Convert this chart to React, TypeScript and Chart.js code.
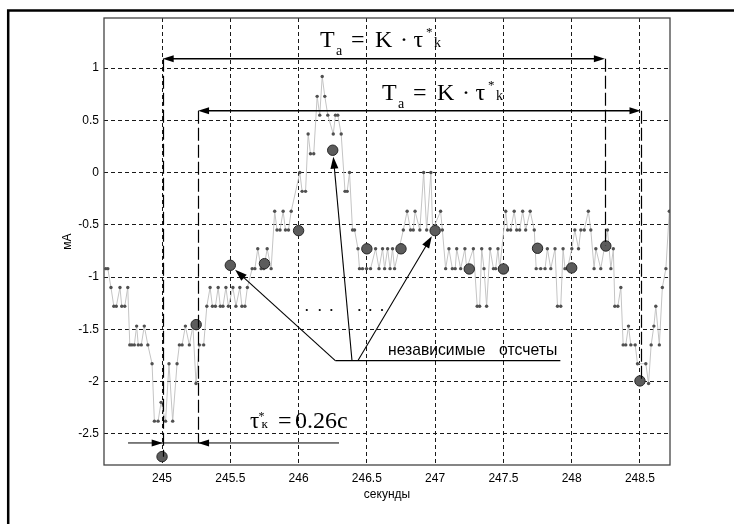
import { useEffect, useRef } from 'react';
import { Chart, registerables } from 'chart.js';

Chart.register(...registerables);

// ---------- axes ----------
const xMin = 244.575;
const xMax = 248.72;
const yMin = -2.8;
const yMax = 1.48;
const xTickValues = [245, 245.5, 246, 246.5, 247, 247.5, 248, 248.5];
const xTickLabels = ['245', '245.5', '246', '246.5', '247', '247.5', '248', '248.5'];
const yTickValues = [-2.5, -2, -1.5, -1, -0.5, 0, 0.5, 1];
const yTickLabels = ['-2.5', '-2', '-1.5', '-1', '-0.5', '0', '0.5', '1'];
const xTitle = 'секунды';
const yTitle = 'мА';

// ---------- quantised signal samples (seconds, mA) ----------
const sampleTimes = [
  244.588, 244.603, 244.626, 244.647, 244.665, 244.692, 244.705, 244.727, 244.749, 244.764,
  244.779, 244.797, 244.814, 244.826, 244.848, 244.870, 244.896, 244.927, 244.944, 244.971,
  244.993, 245.026, 245.051, 245.078, 245.110, 245.127, 245.147, 245.171, 245.200, 245.226,
  245.249, 245.273, 245.305, 245.328, 245.352, 245.369, 245.391, 245.411, 245.427, 245.446,
  245.468, 245.486, 245.519, 245.541, 245.570, 245.585, 245.607, 245.625, 245.660, 245.680,
  245.701, 245.726, 245.745, 245.770, 245.799, 245.825, 245.842, 245.864, 245.887, 245.904,
  245.926, 245.946, 246.009, 246.026, 246.051, 246.070, 246.087, 246.111, 246.136, 246.155,
  246.173, 246.192, 246.214, 246.254, 246.270, 246.287, 246.312, 246.340, 246.356, 246.373,
  246.395, 246.410, 246.435, 246.446, 246.468, 246.498, 246.527, 246.564, 246.589, 246.615,
  246.630, 246.652, 246.670, 246.688, 246.703, 246.767, 246.795, 246.820, 246.840, 246.853,
  246.888, 246.916, 246.938, 246.969, 246.982, 247.040, 247.053, 247.077, 247.101, 247.126,
  247.147, 247.158, 247.187, 247.218, 247.231, 247.280, 247.308, 247.326, 247.341, 247.358,
  247.377, 247.402, 247.427, 247.443, 247.460, 247.473, 247.517, 247.531, 247.553, 247.579,
  247.597, 247.619, 247.641, 247.663, 247.696, 247.726, 247.740, 247.773, 247.805, 247.822,
  247.847, 247.878, 247.896, 247.920, 247.937, 247.951, 247.969, 248.001, 248.023, 248.050,
  248.067, 248.092, 248.122, 248.140, 248.164, 248.177, 248.213, 248.262, 248.287, 248.305,
  248.316, 248.338, 248.360, 248.377, 248.396, 248.416, 248.433, 248.465, 248.482, 248.543,
  248.563, 248.582, 248.602, 248.616, 248.642, 248.664, 248.690, 248.715,
];
const sampleLevels = [
  -0.92, -0.92, -1.10, -1.28, -1.28, -1.10, -1.28, -1.28, -1.10, -1.65,
  -1.65, -1.65, -1.47, -1.65, -1.65, -1.47, -1.65, -1.83, -2.38, -2.38,
  -2.20, -2.38, -1.83, -2.38, -1.83, -1.65, -1.65, -1.47, -1.65, -1.47,
  -2.02, -1.65, -1.65, -1.28, -1.10, -1.28, -1.28, -1.10, -1.28, -1.28,
  -1.10, -1.28, -1.10, -1.28, -1.10, -1.28, -1.28, -1.10, -0.92, -0.92,
  -0.73, -0.92, -0.92, -0.73, -0.92, -0.37, -0.55, -0.55, -0.37, -0.55,
  -0.55, -0.37, 0.00, -0.18, -0.18, 0.37, 0.18, 0.18, 0.73, 0.55,
  0.92, 0.73, 0.55, 0.37, 0.55, 0.55, 0.37, -0.18, -0.18, 0.00,
  -0.55, -0.55, -0.73, -0.92, -0.92, -0.92, -0.92, -0.73, -0.92, -0.73,
  -0.92, -0.73, -0.92, -0.73, -0.92, -0.55, -0.37, -0.55, -0.55, -0.37,
  -0.55, 0.00, -0.55, 0.00, -0.55, -0.37, -0.55, -0.92, -0.73, -0.92,
  -0.92, -0.73, -0.92, -0.73, -0.92, -0.73, -1.28, -1.28, -0.73, -0.92,
  -1.28, -0.73, -0.92, -0.92, -0.73, -0.92, -0.37, -0.55, -0.55, -0.37,
  -0.55, -0.55, -0.37, -0.55, -0.37, -0.55, -0.92, -0.92, -0.92, -0.73,
  -0.92, -0.73, -1.28, -1.28, -0.73, -0.92, -0.92, -0.73, -0.55, -0.73,
  -0.55, -0.55, -0.37, -0.55, -0.92, -0.73, -0.92, -0.55, -0.92, -0.73,
  -1.28, -1.28, -1.10, -1.65, -1.65, -1.47, -1.65, -1.65, -1.83, -1.83,
  -2.02, -1.65, -1.47, -1.28, -1.65, -1.10, -0.92, -0.37,
];

// ---------- independent samples (big circles) ----------
const independentTimes = [245, 245.25, 245.5, 245.75, 246, 246.25, 246.5, 246.75, 247, 247.25, 247.5, 247.75, 248, 248.25, 248.5];
const independentValues = [-2.72, -1.456, -0.888, -0.872, -0.556, 0.214, -0.73, -0.73, -0.556, -0.923, -0.923, -0.725, -0.913, -0.703, -1.995];

// ---------- annotations (data coordinates) ----------
const spanArrowY = [1.09, 0.593];
const spanArrowFrom = [245.005, 245.264];
const spanArrowTo = [248.243, 248.504];
const guideX = [245.005, 248.243, 245.264, 248.504];
const guideTop = [1.09, 1.09, 0.593, 0.593];
const guideBottom = [-2.72, -0.703, -2.589, -1.995];
const formulaT = [246.157, 246.611];
const formulaY = [1.205, 0.695];
const tauArrowY = -2.589;
const tauArrowFrom = 244.751;
const tauArrowTo = 246.296;
const tauHeadRight = 245.005;
const tauHeadLeft = 245.264;
const tauLabelT = 245.644;
const tauLabelY = -2.443;
const ellipsisT = [246.060, 246.155, 246.240, 246.445, 246.525, 246.611];
const ellipsisY = -1.316;
const noteWords = ['независимые', 'отсчеты'];
const noteWordFrom = [246.655, 247.468];
const noteWordTo = [247.368, 247.895];
const noteBaseline = -1.749;
const noteLineY = -1.80;
const noteLineFrom = 246.269;
const noteLineTo = 247.917;
const pointerFrom = [246.269, 246.391, 246.435];
const pointerTargetIndex = [2, 5, 8];

const SERIF = '"Liberation Serif", "Times New Roman", serif';
const SANS = '"Liberation Sans", Arial, sans-serif';

function arrowHead(ctx: CanvasRenderingContext2D, tx: number, ty: number, fx: number, fy: number, len: number, half: number) {
  const dx = tx - fx;
  const dy = ty - fy;
  const d = Math.hypot(dx, dy) || 1;
  const ux = dx / d;
  const uy = dy / d;
  const bx = tx - ux * len;
  const by = ty - uy * len;
  ctx.beginPath();
  ctx.moveTo(tx, ty);
  ctx.lineTo(bx - uy * half, by + ux * half);
  ctx.lineTo(bx + uy * half, by - ux * half);
  ctx.closePath();
  ctx.fill();
}

function drawFormula(ctx: CanvasRenderingContext2D, x0: number, y0: number) {
  const parts: [string, number, number, number][] = [
    ['T', 0, 0, 24],
    ['a', 16, 8, 14],
    ['=', 31, 0, 24],
    ['K', 55, 0, 24],
    ['·', 80, 0, 24],
    ['τ', 93.5, 0, 24],
    ['*', 106, -11, 13],
    ['k', 114, 0, 14],
  ];
  ctx.textAlign = 'left';
  ctx.textBaseline = 'alphabetic';
  for (const [s, dx, dy, size] of parts) {
    ctx.font = `${size}px ${SERIF}`;
    ctx.fillText(s, x0 + dx, y0 + dy);
  }
}

const annotate = {
  id: 'annotate',
  afterDatasetsDraw(chart: any) {
    const { ctx, chartArea, scales } = chart;
    const X = (v: number) => scales.x.getPixelForValue(v);
    const Y = (v: number) => scales.y.getPixelForValue(v);
    ctx.save();

    // plot box
    ctx.strokeStyle = '#444';
    ctx.lineWidth = 1.3;
    ctx.setLineDash([]);
    ctx.strokeRect(chartArea.left, chartArea.top, chartArea.right - chartArea.left, chartArea.bottom - chartArea.top);

    ctx.strokeStyle = '#000';
    ctx.fillStyle = '#000';

    // long-dash guides
    ctx.lineWidth = 1.2;
    ctx.setLineDash([13, 4]);
    guideX.forEach((gx, i) => {
      ctx.beginPath();
      ctx.moveTo(Math.round(X(gx)) + 0.5, Y(guideTop[i]));
      ctx.lineTo(Math.round(X(gx)) + 0.5, Y(guideBottom[i]));
      ctx.stroke();
    });
    ctx.setLineDash([]);

    // span arrows T_a = K·τ*k
    ctx.lineWidth = 1.5;
    spanArrowY.forEach((yy, i) => {
      const py = Y(yy);
      const a = X(spanArrowFrom[i]);
      const b = X(spanArrowTo[i]);
      ctx.beginPath();
      ctx.moveTo(a + 6, py);
      ctx.lineTo(b - 6, py);
      ctx.stroke();
      arrowHead(ctx, a, py, b, py, 11, 3.5);
      arrowHead(ctx, b, py, a, py, 11, 3.5);
      drawFormula(ctx, X(formulaT[i]), Y(formulaY[i]));
    });

    // tau arrow
    ctx.lineWidth = 1;
    const ty = Y(tauArrowY);
    ctx.beginPath();
    ctx.moveTo(X(tauArrowFrom), ty);
    ctx.lineTo(X(tauArrowTo), ty);
    ctx.stroke();
    arrowHead(ctx, X(tauHeadRight), ty, X(tauArrowFrom), ty, 11, 3.5);
    arrowHead(ctx, X(tauHeadLeft), ty, X(tauArrowTo), ty, 11, 3.5);
    const tx0 = X(tauLabelT);
    const tyb = Y(tauLabelY);
    ctx.textAlign = 'left';
    ctx.textBaseline = 'alphabetic';
    ctx.font = `23px ${SERIF}`;
    ctx.fillText('τ', tx0, tyb);
    ctx.font = `12px ${SERIF}`;
    ctx.fillText('*', tx0 + 8.5, tyb - 8);
    ctx.font = `13px ${SERIF}`;
    ctx.fillText('к', tx0 + 11.5, tyb);
    ctx.font = `24px ${SERIF}`;
    ctx.fillText('=', tx0 + 28, tyb);
    ctx.fillText('0.26с', tx0 + 45, tyb);

    // ellipsis dots
    ellipsisT.forEach((et) => {
      ctx.beginPath();
      ctx.arc(X(et), Y(ellipsisY), 1.1, 0, Math.PI * 2);
      ctx.fill();
    });

    // "независимые отсчеты"
    ctx.font = `17px ${SANS}`;
    noteWords.forEach((w, i) => {
      const l = X(noteWordFrom[i]);
      const r = X(noteWordTo[i]);
      const mw = ctx.measureText(w).width;
      ctx.save();
      ctx.translate(l, Y(noteBaseline));
      ctx.scale((r - l) / mw, 1);
      ctx.fillText(w, 0, 0);
      ctx.restore();
    });
    ctx.lineWidth = 1.2;
    const ly = Y(noteLineY);
    ctx.beginPath();
    ctx.moveTo(X(noteLineFrom), ly);
    ctx.lineTo(X(noteLineTo), ly);
    ctx.stroke();

    // pointers to independent samples
    ctx.lineWidth = 1.1;
    pointerFrom.forEach((pf, i) => {
      const k = pointerTargetIndex[i];
      const fx = X(pf);
      const cx = X(independentTimes[k]);
      const cy = Y(independentValues[k]);
      const d = Math.hypot(cx - fx, cy - ly);
      const tipX = cx - ((cx - fx) / d) * 6.5;
      const tipY = cy - ((cy - ly) / d) * 6.5;
      const ux = (tipX - fx) / d;
      const uy = (tipY - ly) / d;
      ctx.beginPath();
      ctx.moveTo(fx, ly);
      ctx.lineTo(tipX - ux * 8, tipY - uy * 8);
      ctx.stroke();
      arrowHead(ctx, tipX, tipY, fx, ly, 12, 4);
    });

    ctx.restore();
  },
  afterDraw(chart: any) {
    const { ctx, width } = chart;
    ctx.save();
    ctx.strokeStyle = '#000';
    ctx.lineWidth = 2.5;
    ctx.beginPath();
    ctx.moveTo(8.2, chart.height);
    ctx.lineTo(8.2, 10.4);
    ctx.lineTo(width, 10.4);
    ctx.stroke();
    ctx.restore();
  },
};

export default function App() {
  const canvasRef = useRef<HTMLCanvasElement | null>(null);

  useEffect(() => {
    const canvas = canvasRef.current;
    if (!canvas) return;
    const chart = new Chart(canvas, {
      type: 'scatter',
      data: {
        datasets: [
          {
            label: 'independent',
            data: independentTimes.map((t, i) => ({ x: t, y: independentValues[i] })),
            showLine: false,
            pointRadius: 5.2,
            pointBackgroundColor: '#5c5c5c',
            pointBorderColor: '#262626',
            pointBorderWidth: 1,
            order: 0,
          },
          {
            label: 'signal',
            data: sampleTimes.map((t, i) => ({ x: t, y: sampleLevels[i] })),
            showLine: true,
            borderColor: '#c4c4c4',
            borderWidth: 1,
            pointRadius: 1.7,
            pointBackgroundColor: '#505050',
            pointBorderColor: '#505050',
            pointBorderWidth: 0,
            tension: 0,
            order: 1,
          },
        ],
      },
      options: {
        responsive: false,
        animation: false,
        events: [],
        devicePixelRatio: 1,
        layout: { padding: { left: 0, top: 18, right: 64, bottom: 0 } },
        plugins: {
          legend: { display: false },
          tooltip: { enabled: false },
        },
        scales: {
          x: {
            type: 'linear',
            min: xMin,
            max: xMax,
            afterBuildTicks: (scale: any) => {
              scale.ticks = xTickValues.map((v) => ({ value: v }));
            },
            afterFit: (scale: any) => {
              scale.height = 59;
            },
            ticks: {
              callback: (_v: any, i: number) => xTickLabels[i],
              color: '#000',
              padding: 6,
              maxRotation: 0,
              autoSkip: false,
              font: { family: SANS, size: 12 },
            },
            grid: { color: '#1a1a1a', lineWidth: 1, drawTicks: false },
            border: { display: false, dash: [4, 3] },
            title: {
              display: true,
              text: xTitle,
              color: '#000',
              font: { family: SANS, size: 12 },
              padding: { top: 0, bottom: 22 },
            },
          },
          y: {
            type: 'linear',
            min: yMin,
            max: yMax,
            afterBuildTicks: (scale: any) => {
              scale.ticks = yTickValues.map((v) => ({ value: v }));
            },
            afterFit: (scale: any) => {
              scale.width = 104;
            },
            ticks: {
              callback: (_v: any, i: number) => yTickLabels[i],
              color: '#000',
              padding: 5,
              autoSkip: false,
              font: { family: SANS, size: 12 },
            },
            grid: { color: '#1a1a1a', lineWidth: 1, drawTicks: false },
            border: { display: false, dash: [4, 3] },
            title: {
              display: true,
              text: yTitle,
              color: '#000',
              font: { family: SANS, size: 12 },
              padding: { top: 60, bottom: 0 },
            },
          },
        },
      },
      plugins: [annotate],
    } as any);
    return () => chart.destroy();
  }, []);

  return (
    <div style={{ position: 'absolute', left: 0, top: 0, width: 734, height: 524, background: '#fff' }}>
      <canvas ref={canvasRef} width={734} height={524} style={{ display: 'block' }} />
    </div>
  );
}
